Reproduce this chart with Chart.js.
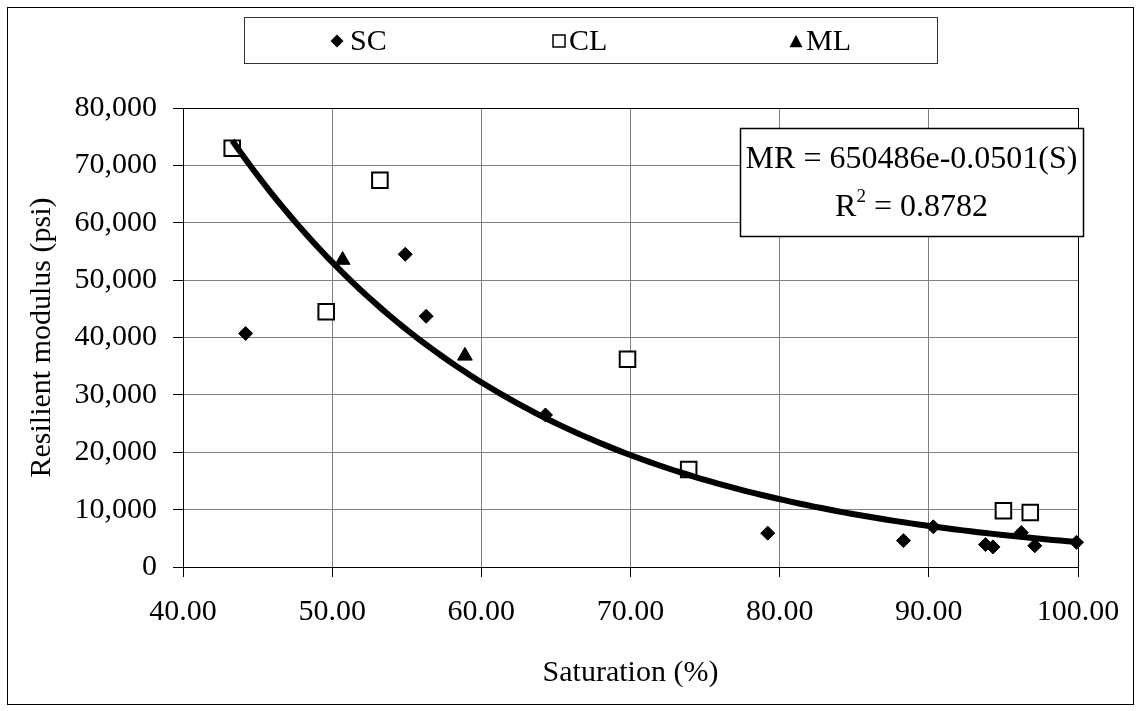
<!DOCTYPE html>
<html>
<head>
<meta charset="utf-8">
<title>Resilient modulus vs saturation</title>
<script src="https://cdn.jsdelivr.net/npm/chart.js@4.4.1/dist/chart.umd.min.js"></script>
<style>
  html, body { margin: 0; padding: 0; background: #fff; }
  canvas { display: block; }
</style>
</head>
<body>
<canvas id="chart" width="1140" height="711"></canvas>
<script>
// Measured resilient modulus (psi) against degree of saturation (%), per soil type
const scSaturation = [44.2, 54.9, 56.3, 64.3, 79.2, 88.3, 90.3, 93.8, 94.3, 96.2, 97.1, 99.9];
const scModulus    = [40700, 54500, 43700, 26500, 5900, 4600, 7000, 3900, 3500, 6000, 3700, 4300];

const clSaturation = [43.3, 49.6, 53.2, 69.8, 73.9, 95.0, 96.8];
const clModulus    = [73000, 44500, 67400, 36200, 17000, 9800, 9500];

const mlSaturation = [50.7, 58.9];
const mlModulus    = [53500, 36800];

// Exponential fit over all soils: MR = a * e^(b * S)
const fitA = 650486;
const fitB = -0.0501;
const fitR2 = 0.8782;

const xTickValues = [40, 50, 60, 70, 80, 90, 100];
const xTickLabels = ['40.00', '50.00', '60.00', '70.00', '80.00', '90.00', '100.00'];
const yTickValues = [0, 10000, 20000, 30000, 40000, 50000, 60000, 70000, 80000];
const yTickLabels = ['0', '10,000', '20,000', '30,000', '40,000', '50,000', '60,000', '70,000', '80,000'];

const seriesNames = ['SC', 'CL', 'ML'];

const FONT = '"Liberation Serif", "Times New Roman", serif';

function pairs(xs, ys) {
  return xs.map((x, i) => ({ x: x, y: ys[i] }));
}

// Trend curve evaluated from the fitted coefficients across the data range
const allS = scSaturation.concat(clSaturation, mlSaturation);
const sMin = Math.min.apply(null, allS);
const sMax = Math.max.apply(null, allS);
const trendPoints = [];
for (let s = sMin; s < sMax; s += 0.5) {
  trendPoints.push({ x: s, y: fitA * Math.exp(fitB * s) });
}
trendPoints.push({ x: sMax, y: fitA * Math.exp(fitB * sMax) });

function drawDiamond(ctx, x, y, r) {
  ctx.beginPath();
  ctx.moveTo(x - r, y); ctx.lineTo(x, y - r); ctx.lineTo(x + r, y); ctx.lineTo(x, y + r);
  ctx.closePath();
  ctx.fillStyle = '#000';
  ctx.fill();
}
function drawSquare(ctx, x, y, side) {
  ctx.fillStyle = '#fff';
  ctx.fillRect(x - side / 2, y - side / 2, side, side);
  ctx.lineWidth = 1.5;
  ctx.strokeStyle = '#000';
  ctx.strokeRect(x - side / 2, y - side / 2, side, side);
}
function drawTriangle(ctx, x, y, w) {
  const h = w * 0.95;
  ctx.beginPath();
  ctx.moveTo(x, y - h / 2); ctx.lineTo(x + w / 2, y + h / 2); ctx.lineTo(x - w / 2, y + h / 2);
  ctx.closePath();
  ctx.fillStyle = '#000';
  ctx.fill();
}

// Page background, frame, plot border, legend and equation box
const decorations = {
  id: 'decorations',
  beforeDraw(chart) {
    const ctx = chart.ctx;
    ctx.save();
    ctx.fillStyle = '#fff';
    ctx.fillRect(0, 0, chart.width, chart.height);
    ctx.restore();
  },
  beforeDatasetsDraw(chart) {
    const { ctx, chartArea: a } = chart;
    ctx.save();
    ctx.strokeStyle = '#000';
    ctx.lineWidth = 1;
    ctx.strokeRect(Math.round(a.left) + 0.5, Math.round(a.top) + 0.5,
                   Math.round(a.right - a.left), Math.round(a.bottom - a.top));
    ctx.restore();
  },
  afterDraw(chart) {
    const ctx = chart.ctx;
    ctx.save();

    // outer frame
    ctx.strokeStyle = '#000';
    ctx.lineWidth = 1;
    ctx.strokeRect(7.5, 7.5, 1126, 697);

    // legend
    ctx.fillStyle = '#fff';
    ctx.fillRect(244, 17, 693, 46);
    ctx.strokeStyle = '#333';
    ctx.strokeRect(244.5, 17.5, 693, 46);
    ctx.font = '30px ' + FONT;
    ctx.textBaseline = 'middle';
    ctx.textAlign = 'left';
    const ly = 41;
    drawDiamond(ctx, 337, ly, 6.5);
    ctx.fillStyle = '#000';
    ctx.fillText(seriesNames[0], 350, ly + 1);
    drawSquare(ctx, 559, ly, 12);
    ctx.fillStyle = '#000';
    ctx.fillText(seriesNames[1], 569, ly + 1);
    drawTriangle(ctx, 796, ly, 13);
    ctx.fillStyle = '#000';
    ctx.fillText(seriesNames[2], 806, ly + 1);

    // equation box
    ctx.fillStyle = '#fff';
    ctx.fillRect(740, 128, 343, 108);
    ctx.strokeStyle = '#000';
    ctx.strokeRect(740.5, 128.5, 343, 108);
    const cx = 911.5;
    ctx.fillStyle = '#000';
    ctx.font = '32px ' + FONT;
    ctx.textAlign = 'center';
    ctx.textBaseline = 'alphabetic';
    ctx.fillText('MR = ' + fitA + 'e' + fitB + '(S)', cx, 168);

    const rest = ' = ' + fitR2;
    const wR = ctx.measureText('R').width;
    ctx.font = '19px ' + FONT;
    const w2 = ctx.measureText('2').width;
    ctx.font = '32px ' + FONT;
    const wRest = ctx.measureText(rest).width;
    let x0 = cx - (wR + w2 + wRest) / 2;
    const by = 216;
    ctx.textAlign = 'left';
    ctx.fillText('R', x0, by);
    ctx.font = '19px ' + FONT;
    ctx.fillText('2', x0 + wR, by - 14);
    ctx.font = '32px ' + FONT;
    ctx.fillText(rest, x0 + wR + w2, by);

    ctx.restore();
  }
};

new Chart(document.getElementById('chart'), {
  type: 'scatter',
  data: {
    datasets: [
      {
        label: 'Exponential fit',
        data: trendPoints,
        showLine: true,
        borderColor: '#000',
        borderWidth: 6,
        pointRadius: 0,
        tension: 0,
        order: 0,
        clip: false
      },
      {
        label: seriesNames[0],
        data: pairs(scSaturation, scModulus),
        pointStyle: 'rectRot',
        pointRadius: 7,
        backgroundColor: '#000',
        borderColor: '#000',
        borderWidth: 1,
        order: 1,
        clip: false
      },
      {
        label: seriesNames[1],
        data: pairs(clSaturation, clModulus),
        pointStyle: 'rect',
        pointRadius: 11,
        backgroundColor: '#fff',
        borderColor: '#000',
        borderWidth: 2,
        order: 2,
        clip: false
      },
      {
        label: seriesNames[2],
        data: pairs(mlSaturation, mlModulus),
        pointStyle: 'triangle',
        pointRadius: 8.5,
        backgroundColor: '#000',
        borderColor: '#000',
        borderWidth: 1,
        order: 3,
        clip: false
      }
    ]
  },
  options: {
    responsive: false,
    animation: false,
    events: [],
    layout: { padding: { left: 8, right: 62, top: 108, bottom: 10 } },
    plugins: {
      legend: { display: false },
      tooltip: { enabled: false },
      title: { display: false }
    },
    scales: {
      x: {
        type: 'linear',
        min: 40,
        max: 100,
        afterFit(scale) { scale.height = 134; },
        afterBuildTicks(scale) { scale.ticks = xTickValues.map(v => ({ value: v })); },
        ticks: {
          autoSkip: false,
          maxRotation: 0,
          padding: 17,
          color: '#000',
          font: { family: FONT, size: 30 },
          callback: (v) => xTickLabels[xTickValues.indexOf(v)]
        },
        grid: { color: '#808080', lineWidth: 1, tickLength: 10, tickColor: '#000' },
        border: { display: true, color: '#000', width: 1 },
        title: {
          display: true,
          text: 'Saturation (%)',
          color: '#000',
          font: { family: FONT, size: 30 },
          padding: { top: 0, bottom: 10 }
        }
      },
      y: {
        type: 'linear',
        min: 0,
        max: 80000,
        afterFit(scale) { scale.width = 175; },
        afterBuildTicks(scale) { scale.ticks = yTickValues.map(v => ({ value: v })); },
        ticks: {
          autoSkip: false,
          padding: 16,
          color: '#000',
          font: { family: FONT, size: 30 },
          callback: (v) => yTickLabels[yTickValues.indexOf(v)]
        },
        grid: { color: '#808080', lineWidth: 1, tickLength: 10, tickColor: '#000' },
        border: { display: true, color: '#000', width: 1 },
        title: {
          display: true,
          text: 'Resilient modulus (psi)',
          color: '#000',
          font: { family: FONT, size: 30 },
          padding: { top: 16, bottom: 0 }
        }
      }
    }
  },
  plugins: [decorations]
});
</script>
</body>
</html>
